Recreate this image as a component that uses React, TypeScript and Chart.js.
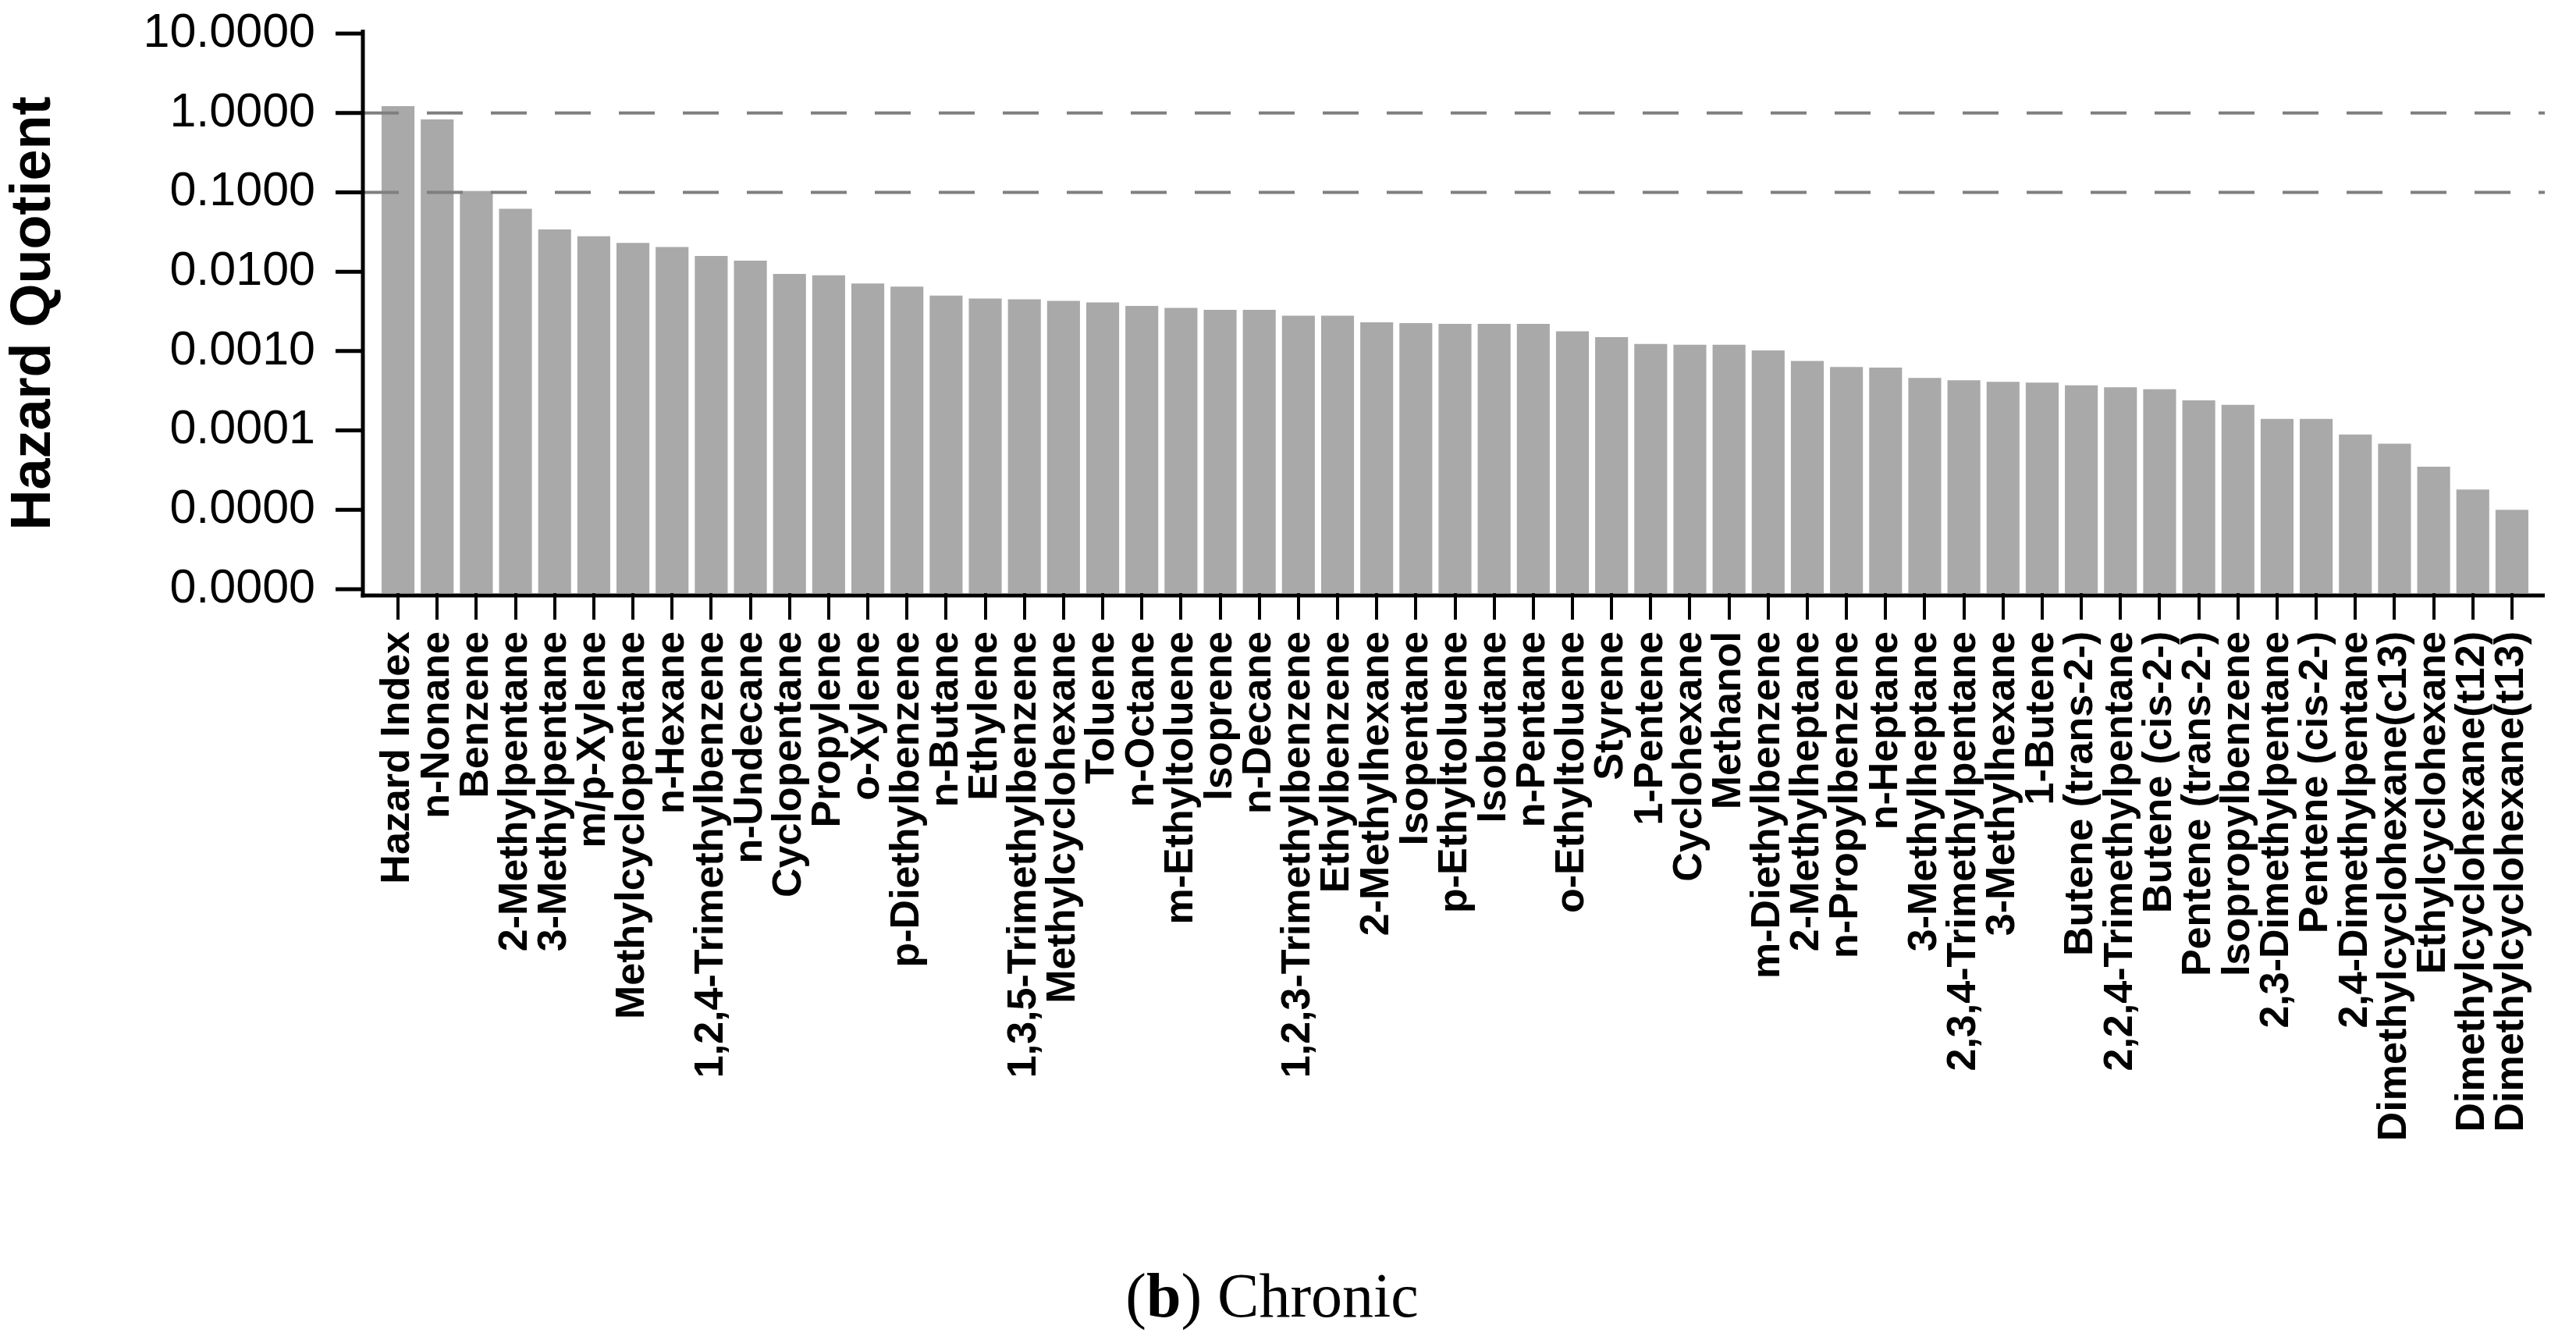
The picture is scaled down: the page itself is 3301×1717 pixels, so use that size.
import React, { useEffect, useRef } from "react";
import { Chart, registerables } from "chart.js";

Chart.register(...registerables);

const categories: string[] = [
  "Hazard Index", "n-Nonane", "Benzene", "2-Methylpentane", "3-Methylpentane",
  "m/p-Xylene", "Methylcyclopentane", "n-Hexane", "1,2,4-Trimethylbenzene", "n-Undecane",
  "Cyclopentane", "Propylene", "o-Xylene", "p-Diethylbenzene", "n-Butane",
  "Ethylene", "1,3,5-Trimethylbenzene", "Methylcyclohexane", "Toluene", "n-Octane",
  "m-Ethyltoluene", "Isoprene", "n-Decane", "1,2,3-Trimethylbenzene", "Ethylbenzene",
  "2-Methylhexane", "Isopentane", "p-Ethyltoluene", "Isobutane", "n-Pentane",
  "o-Ethyltoluene", "Styrene", "1-Pentene", "Cyclohexane", "Methanol",
  "m-Diethylbenzene", "2-Methylheptane", "n-Propylbenzene", "n-Heptane", "3-Methylheptane",
  "2,3,4-Trimethylpentane", "3-Methylhexane", "1-Butene", "Butene (trans-2-)", "2,2,4-Trimethylpentane",
  "Butene (cis-2-)", "Pentene (trans-2-)", "Isopropylbenzene", "2,3-Dimethylpentane", "Pentene (cis-2-)",
  "2,4-Dimethylpentane", "Dimethylcyclohexane(c13)", "Ethylcyclohexane", "Dimethylcyclohexane(t12)", "Dimethylcyclohexane(t13)",
];

const hazardQuotient: number[] = [
  1.22, 0.83, 0.104, 0.062, 0.034,
  0.028, 0.023, 0.0205, 0.0158, 0.0138,
  0.0094, 0.009, 0.0071, 0.0065, 0.005,
  0.0046, 0.0045, 0.0043, 0.0041, 0.0037,
  0.0035, 0.0033, 0.0033, 0.0028, 0.0028,
  0.0023, 0.00225, 0.0022, 0.0022, 0.0022,
  0.00178, 0.0015, 0.00123, 0.0012, 0.0012,
  0.00102, 0.00075, 0.00063, 0.00062, 0.00046,
  0.00043, 0.00041, 0.0004, 0.00037, 0.00035,
  0.00033, 0.00024, 0.00021, 0.00014, 0.00014,
  0.000089, 0.000068, 0.000035, 0.000018, 0.00001,
];

const yTickValues: number[] = [0.000001, 0.00001, 0.0001, 0.001, 0.01, 0.1, 1, 10];
const referenceLines: number[] = [1, 0.1];

const W = 3301;
const H = 1717;
const FONT = "'Liberation Sans', Arial, Helvetica, sans-serif";

const axesPlugin = {
  id: "refAxes",
  afterDatasetsDraw(chart: any) {
    const { ctx, chartArea, scales } = chart;
    const y = scales.y;
    const axisX = chartArea.left - 20;
    const rightX = chartArea.right + 17;
    ctx.save();
    // dashed reference lines
    ctx.strokeStyle = "#7f7f7f";
    ctx.lineWidth = 4;
    ctx.setLineDash([46, 36]);
    referenceLines.forEach((v) => {
      const py = y.getPixelForValue(v);
      ctx.beginPath();
      ctx.moveTo(axisX, py);
      ctx.lineTo(rightX, py);
      ctx.stroke();
    });
    ctx.setLineDash([]);
    // axes
    ctx.strokeStyle = "#000";
    ctx.lineWidth = 5;
    ctx.beginPath();
    ctx.moveTo(axisX, chartArea.top - 5);
    ctx.lineTo(axisX, chartArea.bottom + 5.5);
    ctx.stroke();
    ctx.beginPath();
    ctx.moveTo(axisX - 2.5, chartArea.bottom + 3);
    ctx.lineTo(rightX, chartArea.bottom + 3);
    ctx.stroke();
    // y tick marks
    yTickValues.forEach((v) => {
      const py = y.getPixelForValue(v);
      ctx.beginPath();
      ctx.moveTo(axisX - 35, py);
      ctx.lineTo(axisX, py);
      ctx.stroke();
    });
    ctx.restore();
  },
};

export default function App() {
  const canvasRef = useRef<HTMLCanvasElement | null>(null);

  useEffect(() => {
    if (!canvasRef.current) return;
    Chart.defaults.color = "#000";
    const chart = new Chart(canvasRef.current, {
      type: "bar",
      data: {
        labels: categories,
        datasets: [
          {
            data: hazardQuotient,
            backgroundColor: "#a9a9a9",
            borderWidth: 0,
            barPercentage: 0.84,
            categoryPercentage: 1,
          },
        ],
      },
      options: {
        animation: false,
        responsive: false,
        maintainAspectRatio: false,
        devicePixelRatio: 1,
        layout: { padding: { top: 43, right: 57, left: 0, bottom: 0 } },
        plugins: {
          legend: { display: false },
          tooltip: { enabled: false },
          title: { display: false },
        },
        scales: {
          x: {
            type: "category",
            offset: true,
            grid: {
              display: true,
              drawOnChartArea: false,
              drawTicks: true,
              tickLength: 34,
              lineWidth: 4,
              color: "#000",
              offset: false,
            },
            border: { display: false },
            ticks: {
              autoSkip: false,
              minRotation: 90,
              maxRotation: 90,
              padding: 15,
              color: "#000",
              font: { family: FONT, size: 52, weight: "bold" },
            },
            afterFit: (scale: any) => {
              scale.height = H - 760;
            },
          },
          y: {
            type: "logarithmic",
            min: 8.93e-7,
            max: 10,
            grid: { display: false, drawTicks: false },
            border: { display: false },
            afterBuildTicks: (scale: any) => {
              scale.ticks = yTickValues.map((v) => ({ value: v }));
            },
            ticks: {
              padding: 81,
              color: "#000",
              font: { family: FONT, size: 61 },
              callback: (v: any) => Number(v).toFixed(4),
            },
            title: {
              display: true,
              text: "Hazard Quotient",
              color: "#000",
              padding: { top: 1, bottom: 0 },
              font: { family: FONT, size: 72, weight: "bold", lineHeight: 1.2 },
            },
            afterFit: (scale: any) => {
              scale.width = 485;
              scale.paddingTop = 0;
              scale.paddingBottom = 0;
            },
          },
        },
      },
      plugins: [axesPlugin],
    });
    return () => chart.destroy();
  }, []);

  return (
    <div
      style={{
        position: "fixed",
        left: 0,
        top: 0,
        width: W,
        height: H,
        background: "#fff",
        overflow: "hidden",
      }}
    >
      <canvas
        ref={canvasRef}
        width={W}
        height={H}
        style={{ position: "absolute", left: 0, top: 0, width: W, height: H }}
      />
      <div
        style={{
          position: "absolute",
          left: 1630,
          top: 1620,
          transform: "translateX(-50%)",
          whiteSpace: "nowrap",
          fontFamily: "'Liberation Serif', 'Times New Roman', serif",
          fontSize: 80,
          lineHeight: "80px",
          color: "#000",
        }}
      >
        (<b>b</b>) Chronic
      </div>
    </div>
  );
}
